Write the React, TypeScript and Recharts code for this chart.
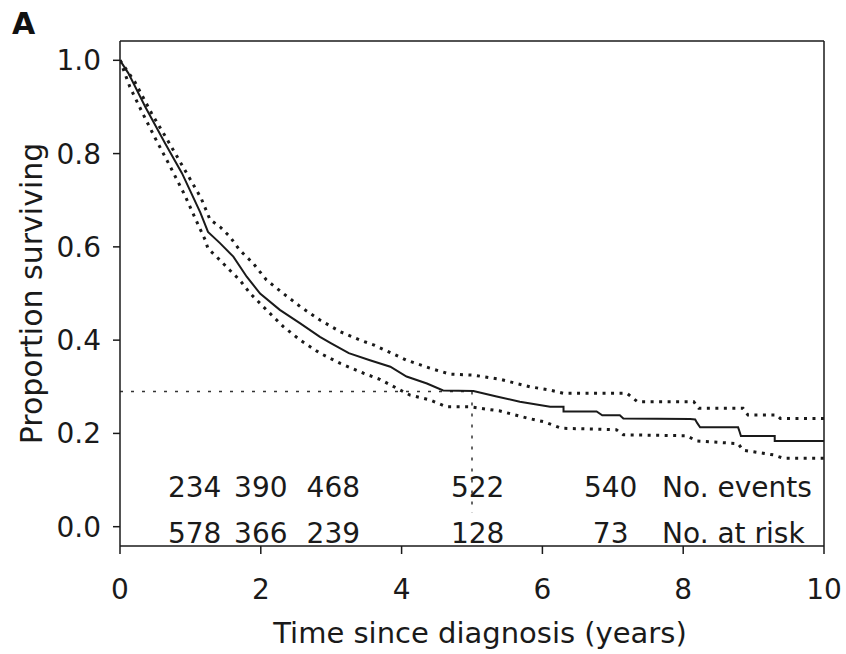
import { Label, Line, LineChart, ReferenceDot, ReferenceLine, XAxis, YAxis } from "recharts"

// Kaplan-Meier estimate
const survTimes = [0, 0.12, 0.36, 0.64, 0.88, 1.14, 1.25, 1.42, 1.61, 1.8, 1.99, 2.27, 2.56, 2.84, 3.0, 3.25, 3.55, 3.84, 4.07, 4.36, 4.59, 5.02, 5.35, 5.68, 6.11, 6.3, 6.3, 6.77, 6.85, 7.1, 7.15, 8.1, 8.17, 8.2, 8.24, 8.78, 8.8, 8.82, 9.3, 9.3, 10]
const survValues = [1.0, 0.972, 0.9, 0.822, 0.758, 0.674, 0.632, 0.608, 0.579, 0.536, 0.5, 0.465, 0.436, 0.407, 0.393, 0.372, 0.357, 0.343, 0.322, 0.307, 0.292, 0.291, 0.279, 0.268, 0.257, 0.257, 0.247, 0.247, 0.239, 0.239, 0.232, 0.231, 0.23, 0.222, 0.213, 0.213, 0.204, 0.1945, 0.1945, 0.184, 0.184]

// confidence bounds
const upperTimes = [0, 0.21, 0.45, 0.69, 0.92, 1.15, 1.28, 1.42, 1.56, 1.7, 1.89, 2.08, 2.32, 2.56, 2.84, 3.13, 3.41, 3.6, 3.86, 4.07, 4.4, 4.69, 5.02, 5.4, 5.82, 6.11, 6.3, 7.2, 7.35, 8.15, 8.22, 8.85, 8.92, 9.33, 9.38, 10]
const upperValues = [1.0, 0.954, 0.886, 0.825, 0.765, 0.705, 0.658, 0.643, 0.622, 0.593, 0.565, 0.529, 0.5, 0.472, 0.443, 0.418, 0.4, 0.39, 0.372, 0.357, 0.34, 0.327, 0.325, 0.316, 0.3, 0.293, 0.286, 0.286, 0.268, 0.268, 0.254, 0.254, 0.2395, 0.2395, 0.232, 0.232]

const lowerTimes = [0, 0.14, 0.31, 0.5, 0.69, 0.92, 1.09, 1.21, 1.25, 1.37, 1.56, 1.7, 1.85, 2.08, 2.32, 2.56, 2.84, 3.13, 3.46, 3.69, 3.93, 4.12, 4.4, 4.64, 4.97, 5.11, 5.4, 5.78, 6.02, 6.27, 7.05, 7.15, 8.05, 8.19, 8.78, 8.85, 9.28, 9.42, 10]
const lowerValues = [1.0, 0.943, 0.89, 0.833, 0.779, 0.711, 0.654, 0.615, 0.596, 0.579, 0.55, 0.529, 0.5, 0.465, 0.429, 0.4, 0.372, 0.35, 0.329, 0.316, 0.297, 0.282, 0.272, 0.257, 0.257, 0.254, 0.248, 0.233, 0.225, 0.211, 0.208, 0.197, 0.195, 0.184, 0.178, 0.164, 0.154, 0.147, 0.147]

// median survival marker
const medianTime = 5
const medianValue = 0.29

// numbers table under the curves
const tableTimes = [1.06, 2, 3.03, 5.08, 6.97]
const eventCounts = [234, 390, 468, 522, 540]
const atRiskCounts = [578, 366, 239, 128, 73]

const xTicks = [0, 2, 4, 6, 8, 10]
const yTicks = [0, 0.2, 0.4, 0.6, 0.8, 1.0]

const toPoints = (ts: number[], vs: number[]) => ts.map((t, i) => ({ t, v: vs[i] }))

const survData = toPoints(survTimes, survValues)
const upperData = toPoints(upperTimes, upperValues)
const lowerData = toPoints(lowerTimes, lowerValues)

const FONT = "'DejaVu Sans', sans-serif"
const INK = "#1a1a1a"
const Y_MIN = -0.0414
const Y_MAX = 1.0414
const eventsRowY = 0.085
const riskRowY = -0.0137

export default function App() {
  return (
    <div style={{ position: "absolute", left: 0, top: 0, width: 846, height: 654, fontFamily: FONT, background: "#fff" }}>
      <div style={{ position: "absolute", left: 12, top: 6, fontSize: 30, fontWeight: "bold", color: "#111" }}>A</div>
      <LineChart width={846} height={654} margin={{ top: 41, right: 22, bottom: 0, left: 0 }}>
        <XAxis
          dataKey="t"
          type="number"
          domain={[0, 10]}
          ticks={xTicks}
          allowDataOverflow
          height={108}
          tickSize={8}
          tickMargin={25}
          stroke={INK}
          strokeWidth={1.5}
          tick={{ fill: INK, fontSize: 28, fontFamily: FONT }}
        >
          <Label
            value="Time since diagnosis (years)"
            position="insideBottom"
            offset={11}
            dx={8}
            style={{ fill: INK, fontSize: 29, fontFamily: FONT }}
          />
        </XAxis>
        <YAxis
          type="number"
          domain={[Y_MIN, Y_MAX]}
          ticks={yTicks}
          allowDataOverflow
          width={120}
          tickSize={7}
          tickMargin={12}
          stroke={INK}
          strokeWidth={1.5}
          tickFormatter={(v) => v.toFixed(1)}
          tick={{ fill: INK, fontSize: 28, fontFamily: FONT }}
        >
          <Label
            value="Proportion surviving"
            angle={-90}
            position="insideLeft"
            offset={31}
            style={{ fill: INK, fontSize: 30, fontFamily: FONT, textAnchor: "middle" }}
          />
        </YAxis>

        {/* box: top and right edges */}
        <ReferenceLine y={Y_MAX} stroke={INK} strokeWidth={1.5} ifOverflow="visible" />
        <ReferenceLine x={10} stroke={INK} strokeWidth={1.5} ifOverflow="visible" />

        <ReferenceLine
          segment={[{ x: 0, y: medianValue }, { x: medianTime, y: medianValue }]}
          stroke="#333"
          strokeWidth={1.5}
          strokeDasharray="3 8"
        />
        <ReferenceLine
          segment={[{ x: medianTime, y: medianValue }, { x: medianTime, y: 0.03 }]}
          stroke="#333"
          strokeWidth={1.5}
          strokeDasharray="3 8"
        />

        <Line data={upperData} dataKey="v" type="linear" stroke={INK} strokeWidth={3} strokeDasharray="3 5.5" dot={false} activeDot={false} isAnimationActive={false} />
        <Line data={lowerData} dataKey="v" type="linear" stroke={INK} strokeWidth={3} strokeDasharray="3 5.5" dot={false} activeDot={false} isAnimationActive={false} />
        <Line data={survData} dataKey="v" type="linear" stroke={INK} strokeWidth={2} dot={false} activeDot={false} isAnimationActive={false} />

        {tableTimes.map((t, i) => (
          <ReferenceDot key={`e${i}`} x={t} y={eventsRowY} r={0} fill="none" stroke="none">
            <Label value={String(eventCounts[i])} position="center" style={{ fill: INK, fontSize: 28, fontFamily: FONT }} />
          </ReferenceDot>
        ))}
        {tableTimes.map((t, i) => (
          <ReferenceDot key={`r${i}`} x={t} y={riskRowY} r={0} fill="none" stroke="none">
            <Label value={String(atRiskCounts[i])} position="center" style={{ fill: INK, fontSize: 28, fontFamily: FONT }} />
          </ReferenceDot>
        ))}
        <ReferenceDot x={7.7} y={eventsRowY} r={0} fill="none" stroke="none">
          <Label value="No. events" position="right" offset={0} style={{ fill: INK, fontSize: 28, fontFamily: FONT }} />
        </ReferenceDot>
        <ReferenceDot x={7.7} y={riskRowY} r={0} fill="none" stroke="none">
          <Label value="No. at risk" position="right" offset={0} style={{ fill: INK, fontSize: 28, fontFamily: FONT }} />
        </ReferenceDot>
      </LineChart>
    </div>
  )
}
